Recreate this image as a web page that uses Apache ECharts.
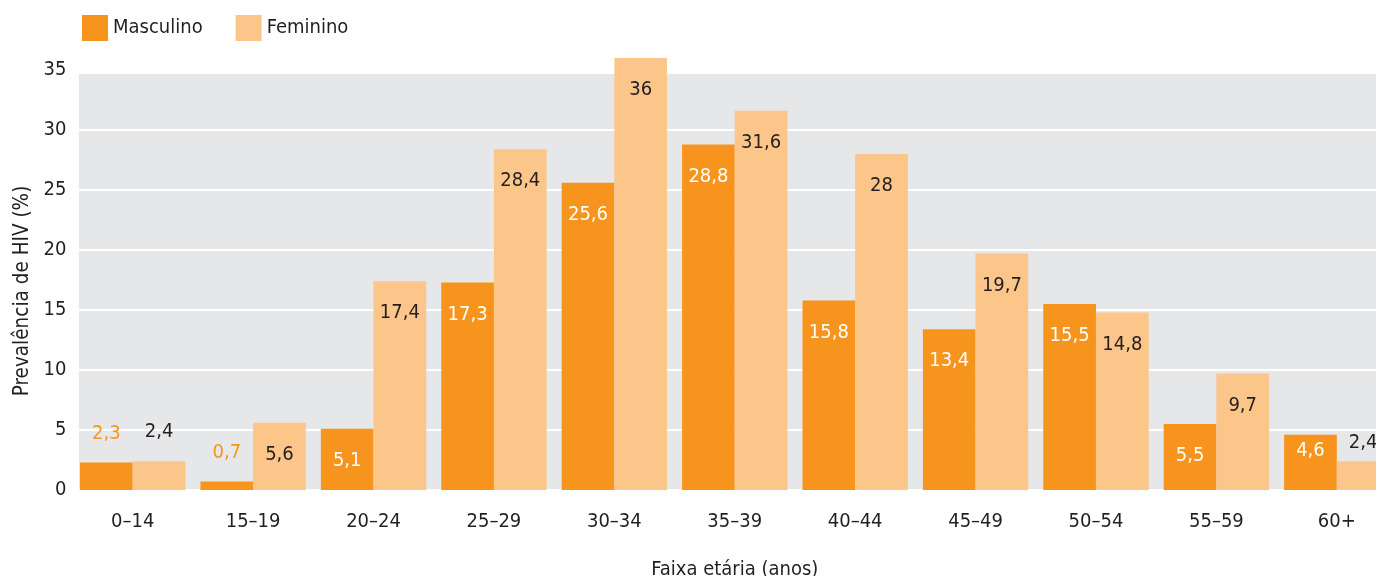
<!DOCTYPE html>
<html>
<head>
<meta charset="utf-8">
<script src="https://cdn.jsdelivr.net/npm/echarts@6/dist/echarts.min.js"></script>
<style>html,body{margin:0;padding:0;background:#fff}#c{width:1376px;height:576px}</style>
</head>
<body>
<div id="c"></div>
<script>
const categories = ['0\u201314','15\u201319','20\u201324','25\u201329','30\u201334','35\u201339','40\u201344','45\u201349','50\u201354','55\u201359','60+'];
const masculino = [2.3, 0.7, 5.1, 17.3, 25.6, 28.8, 15.8, 13.4, 15.5, 5.5, 4.6];
const feminino  = [2.4, 5.6, 17.4, 28.4, 36, 31.6, 28, 19.7, 14.8, 9.7, 2.4];
const yTicks = [0, 5, 10, 15, 20, 25, 30, 35];

const FONT = '"DejaVu Sans Condensed", "Liberation Sans Narrow", sans-serif';
const DARK = '#231f20';
const ORANGE = '#f7941d';
const LIGHT = '#fcc589';
const FS = 20;

function fmt(v){ return String(v).replace('.', ','); }

function items(values, isMale){
  return values.map((v, i) => {
    const small = v < 3;
    const last = i === values.length - 1;
    let label;
    if (small) {
      label = {position: 'top', distance: last ? 8 : 19, color: isMale ? ORANGE : DARK};
    } else {
      label = {position: 'insideTop', distance: last ? 6 : 22, color: isMale ? '#ffffff' : DARK};
    }
    return {value: v, label: label};
  });
}

const chart = echarts.init(document.getElementById('c'), null, {renderer: 'canvas'});
chart.setOption({
  animation: false,
  textStyle: {fontFamily: FONT},
  legend: {
    left: 82, top: 15, padding: 0,
    itemWidth: 26, itemHeight: 26, itemGap: 33,
    icon: 'rect',
    textStyle: {fontFamily: FONT, fontSize: FS, color: DARK, padding: [8, 0, 0, 0]},
    data: ['Masculino', 'Feminino']
  },
  grid: [
    {left: 72.5, width: 1324.5, top: 70, bottom: 86, show: false, containLabel: false, outerBoundsMode: 'none'},
    {left: 79, right: 0, top: 74, bottom: 86, show: true, backgroundColor: '#e6e7e8', borderWidth: 0, z: -1, outerBoundsMode: 'none'}
  ],
  xAxis: [
    {
      type: 'category', gridIndex: 0, data: categories,
      axisLine: {show: false}, axisTick: {show: false},
      axisLabel: {fontFamily: FONT, fontSize: FS, color: DARK, margin: 22},
      name: 'Faixa et\u00e1ria (anos)', nameLocation: 'middle', nameGap: 70,
      nameTextStyle: {fontFamily: FONT, fontSize: FS, color: DARK}
    },
    {type: 'category', gridIndex: 1, show: false, data: categories}
  ],
  yAxis: [
    {
      type: 'value', gridIndex: 0,
      min: yTicks[0], max: yTicks[yTicks.length - 1], interval: yTicks[1] - yTicks[0],
      axisLine: {show: false}, axisTick: {show: false},
      axisLabel: {fontFamily: FONT, fontSize: FS, color: DARK, margin: 6},
      splitLine: {show: true, lineStyle: {color: '#ffffff', width: 2}},
      name: 'Preval\u00eancia de HIV (%)', nameLocation: 'middle', nameGap: 38, nameRotate: 90,
      nameTextStyle: {fontFamily: FONT, fontSize: 20.5, color: DARK, padding: [0, 22, 0, 0]}
    },
    {type: 'value', gridIndex: 1, show: false, min: 0, max: 35}
  ],
  series: [
    {
      name: 'Masculino', type: 'bar', xAxisIndex: 0, yAxisIndex: 0,
      data: items(masculino, true),
      itemStyle: {color: ORANGE},
      barGap: '0%', barCategoryGap: '12.5%', clip: false,
      label: {show: true, fontFamily: FONT, fontSize: FS, formatter: p => fmt(p.value)}
    },
    {
      name: 'Feminino', type: 'bar', xAxisIndex: 0, yAxisIndex: 0,
      data: items(feminino, false),
      itemStyle: {color: LIGHT},
      barGap: '0%', barCategoryGap: '12.5%', clip: false,
      label: {show: true, fontFamily: FONT, fontSize: FS, formatter: p => fmt(p.value)}
    }
  ]
});
</script>
</body>
</html>
